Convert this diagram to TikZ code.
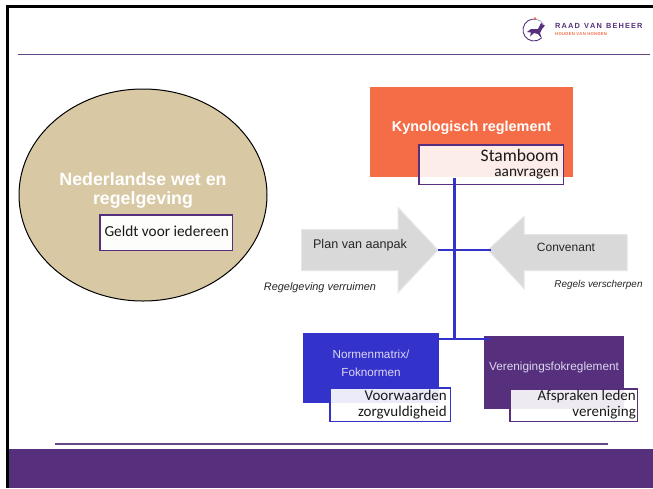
\documentclass[tikz,border=0pt]{standalone}
\usepackage{fontspec}
\usetikzlibrary{shapes.geometric}
\setmainfont{Liberation Sans}
\newfontfamily\carlito{Carlito}
\definecolor{rvbpurple}{HTML}{56307C}
\definecolor{rvborange}{HTML}{F46D47}
\definecolor{rvbblue}{HTML}{3333CC}
\definecolor{rvbtan}{HTML}{D8C8A4}
\definecolor{rvbgrey}{HTML}{D9D9D9}
\definecolor{rvbedge}{HTML}{E6E6E6}
\definecolor{rvblav}{HTML}{DCD6F0}
\tikzset{
  block/.style={draw=none,inner sep=0pt,anchor=north west},
  notebox/.style={line width=1.7pt,inner sep=0pt,anchor=north west},
  flow/.style={rvbblue,line width=2.4pt},
  bigarrow/.style={fill=rvbgrey,draw=rvbedge,line width=1pt,line join=miter},
  headtxt/.style={text=white,font=\bfseries,align=center,inner sep=0pt},
  lab/.style={inner sep=0pt,align=center},
  captxt/.style={inner sep=0pt,text=black!85},
  rulepurple/.style={rvbpurple!90!white,line width=1.3pt},
  subtxt/.style={inner sep=0pt,anchor=base east,text=black!90}
}
\begin{document}
\begin{tikzpicture}[x=1pt,y=-1pt]
\useasboundingbox (0,0) rectangle (653,488);
\fill[white] (0,0) rectangle (653,488);
% slide frame
\fill[black] (6,5) rectangle (653,7.5);
\fill[black] (6,5) rectangle (8.5,488);
\fill[rvbpurple] (8.5,449) rectangle (653,488);
\draw[rulepurple] (18,54.5) -- (650,54.5);
\draw[rulepurple] (55,444) -- (608,444);
% logo
\begin{scope}[shift={(534,30)}]
  \draw[rvbpurple,line width=.9pt] (-80:11) arc[start angle=-80,end angle=-310,radius=11];
  \draw[rvbpurple!50,line width=.7pt] (-80:11) arc[start angle=-80,end angle=-30,radius=11];
  \fill[rvborange] (1,-11.5) circle (1.4);
  \fill[rvbpurple] (-7,2) -- (-3,-1) -- (4,-1) -- (7,-7) -- (9,-5) -- (11,-4.5) -- (8,-1) -- (6,3) -- (8,9) -- (4,4) -- (0,3) -- (-4,6.5) -- (-3,2.5) -- cycle;
\end{scope}
\node[inner sep=0pt,anchor=west,text=rvbpurple,font=\bfseries\fontsize{7.4}{8}\selectfont] (logoA) at (555,26.3) {R\kern1.1pt A\kern1.1pt A\kern1.1pt D\kern1.1pt\ \kern1.1pt V\kern1.1pt A\kern1.1pt N\kern1.1pt\ \kern1.1pt B\kern1.1pt E\kern1.1pt H\kern1.1pt E\kern1.1pt E\kern1.1pt R};
\node[inner sep=0pt,anchor=west,text=rvborange,font=\bfseries\fontsize{4.2}{5}\selectfont] (logoB) at (555,34) {H\kern.3pt O\kern.3pt U\kern.3pt D\kern.3pt E\kern.3pt N\kern.3pt\ V\kern.3pt A\kern.3pt N\kern.3pt\ H\kern.3pt O\kern.3pt N\kern.3pt D\kern.3pt E\kern.3pt N};
% ellipse
\node[draw=black,fill=rvbtan,line width=1pt,ellipse,inner sep=0pt,minimum width=248pt,minimum height=212pt] (wet) at (143,195) {};
\node[headtxt,font=\bfseries\fontsize{17.8}{19}\selectfont] (wettext) at (143,190) {Nederlandse wet en\\regelgeving};
\node[notebox,draw=rvbpurple,fill=white!96!rvbtan,minimum width=132.5pt,minimum height=35.5pt] (geldt) at (99.2,214.2) {};
\node[subtxt,font=\carlito\fontsize{15.3}{17}\selectfont] (geldttext) at (229,236) {Geldt voor iedereen};
% top block
\node[block,fill=rvborange,minimum width=203pt,minimum height=90pt] (kyno) at (370,87) {};
\node[headtxt,font=\bfseries\fontsize{14.4}{16}\selectfont] (kynotext) at (471.5,128) {Kynologisch reglement};
\node[notebox,draw=rvbpurple,fill=white,fill opacity=.88,minimum width=144.5pt,minimum height=39.5pt] (stam) at (418.2,144.2) {};
\node[subtxt,font=\carlito\fontsize{17.6}{20}\selectfont] (stamA) at (559,161) {Stamboom};
\node[subtxt,font=\carlito\fontsize{15.3}{17}\selectfont] (stamB) at (559,176.7) {aanvragen};
% bottom blocks
\node[block,fill=rvbblue,minimum width=136pt,minimum height=70pt] (norm) at (303,333) {};
\node[lab,text=rvblav,font=\fontsize{11.7}{17.5}\selectfont] (normtext) at (371,363.5) {Normenmatrix/\\Foknormen};
\node[block,fill=rvbpurple,minimum width=140pt,minimum height=73pt] (ver) at (484,336) {};
\node[lab,text=rvblav,font=\fontsize{11.8}{14}\selectfont] (vertext) at (554,367) {Verenigingsfokreglement};
\node[notebox,draw=rvbblue,fill=white,fill opacity=.9,minimum width=120.5pt,minimum height=33.5pt] (voor) at (329.2,387.2) {};
\node[notebox,draw=rvbpurple,fill=white,fill opacity=.9,minimum width=127.5pt,minimum height=32.5pt] (afs) at (509.2,388.2) {};
\node[subtxt,font=\carlito\fontsize{15}{17}\selectfont] (voorA) at (447,400) {Voorwaarden};
\node[subtxt,font=\carlito\fontsize{15}{17}\selectfont] (voorB) at (447,416.7) {zorgvuldigheid};
\node[subtxt,font=\carlito\fontsize{15}{17}\selectfont] (afsA) at (636,400) {Afspraken leden};
\node[subtxt,font=\carlito\fontsize{15}{17}\selectfont] (afsB) at (636,416.7) {vereniging};
% big arrows
\coordinate (plantip) at (438,250);
\coordinate (convtip) at (488,250);
\draw[bigarrow] (plantip) -- (398,207.5) -- (398,229.5) -- (301.5,229.5) -- (301.5,270.5) -- (398,270.5) -- (398,292.5) -- cycle;
\draw[bigarrow] (convtip) -- (524,216.5) -- (524,234.5) -- (627,234.5) -- (627,270.5) -- (524,270.5) -- (524,288.5) -- cycle;
\node[lab,text=black!85,font=\fontsize{12.6}{14}\selectfont] (plan) at (360,245.5) {Plan van aanpak};
\node[lab,text=black!85,font=\fontsize{12}{14}\selectfont] (conv) at (566,247.5) {Convenant};
\node[captxt,font=\fontsize{10.9}{12}\selectfont\itshape] (capL) at (320,288) {Regelgeving verruimen};
\node[captxt,font=\fontsize{9.9}{12}\selectfont\itshape] (capR) at (598.5,285) {Regels verscherpen};
% connectors
\coordinate (foot) at (454.5,339);
\coordinate (stamfoot) at (454.5,178);
\coordinate (conright) at (491,250);
\coordinate (verright) at (491,339);
\draw[flow] (stamfoot) -- (foot);
\draw[flow] (plantip) -- (conright);
\draw[flow] (norm.east |- foot) -- (verright);
\end{tikzpicture}
\end{document}
